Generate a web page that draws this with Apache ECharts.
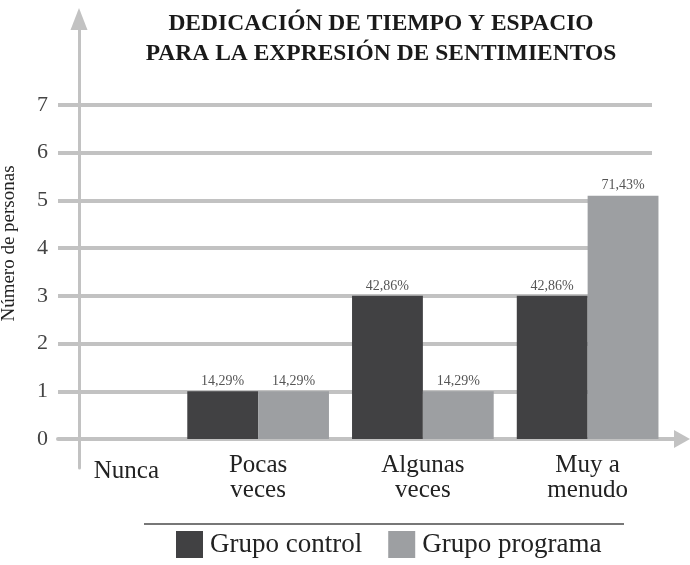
<!DOCTYPE html>
<html>
<head>
<meta charset="utf-8">
<script src="https://cdn.jsdelivr.net/npm/echarts@6/dist/echarts.min.js"></script>
<style>
  html, body { margin: 0; padding: 0; background: #fff; }
  #main { width: 690px; height: 565px; }
</style>
</head>
<body>
<div id="main"></div>
<script>
// datos
let categorias = ['Nunca', 'Pocas\nveces', 'Algunas\nveces', 'Muy a\nmenudo']
let grupoControl = [0, 1, 3, 3]
let grupoPrograma = [0, 1, 1, 5.1]
let pctControl = ['', '14,29%', '42,86%', '42,86%']
let pctPrograma = ['', '14,29%', '14,29%', '71,43%']
let yTicks = [0, 1, 2, 3, 4, 5, 6, 7]

const serif = 'Liberation Serif'
const gris = '#c2c2c2'

let chart = echarts.init(document.getElementById('main'), null, { renderer: 'canvas' })

let barLabel = (pcts) => ({
  show: true,
  position: 'top',
  distance: 3,
  fontFamily: serif,
  fontSize: 14,
  color: '#555',
  formatter: p => pcts[p.dataIndex]
})

let option = {
  backgroundColor: '#fff',
  animation: false,
  title: {
    text: 'DEDICACIÓN DE TIEMPO Y ESPACIO\nPARA LA EXPRESIÓN DE SENTIMIENTOS',
    left: 381,
    top: 9,
    padding: 0,
    textAlign: 'center',
    textStyle: {
      fontFamily: serif,
      fontWeight: 'bold',
      fontSize: 23.5,
      lineHeight: 30,
      color: '#1a1a1a'
    }
  },
  legend: {
    data: ['Grupo control', 'Grupo programa'],
    left: 176,
    top: 531,
    padding: 0,
    icon: 'rect',
    itemWidth: 27,
    itemHeight: 27,
    itemGap: 26,
    selectedMode: false,
    textStyle: { fontFamily: serif, fontSize: 27, color: '#222', padding: [0, 0, 0, 2] }
  },
  graphic: [
    { type: 'line', shape: { x1: 144, y1: 524, x2: 624, y2: 524 }, style: { stroke: '#777', lineWidth: 2 } }
  ],
  grid: [
    // barras
    { left: 11, right: 20, top: 105, bottom: 126 },
    // lineas de division y etiquetas
    { left: 58, right: 38, top: 105, bottom: 126 },
    // eje vertical con flecha
    { left: 78, width: 1, top: 19, bottom: 97 },
    // eje horizontal con flecha
    { left: 58, right: 8, top: 105, bottom: 126 }
  ],
  xAxis: [
    {
      gridIndex: 0,
      type: 'category',
      data: categorias,
      axisLine: { show: false },
      axisTick: { show: false },
      axisLabel: {
        margin: 14,
        fontFamily: serif,
        fontSize: 25,
        lineHeight: 25,
        color: '#222',
        formatter: v => v === 'Nunca' ? '{n|' + v + '}' : v,
        rich: {
          n: { fontFamily: serif, fontSize: 25, lineHeight: 25, color: '#222', padding: [12, 0, 0, 66] }
        }
      }
    },
    { gridIndex: 1, type: 'value', show: false },
    { gridIndex: 2, type: 'value', show: false, min: 0, max: 1 },
    {
      gridIndex: 3,
      type: 'value',
      min: 0,
      max: 1,
      axisLine: {
        show: true,
        symbol: ['none', 'triangle'],
        symbolSize: [18, 16],
        lineStyle: { color: gris, width: 4 }
      },
      axisTick: { show: false },
      axisLabel: { show: false },
      splitLine: { show: false }
    }
  ],
  yAxis: [
    { gridIndex: 0, type: 'value', min: 0, max: 7, show: false },
    {
      gridIndex: 1,
      type: 'value',
      min: yTicks[0],
      max: yTicks[yTicks.length - 1],
      interval: 1,
      axisLine: { show: false },
      axisTick: { show: false },
      axisLabel: { margin: 10, fontFamily: serif, fontSize: 22, color: '#444' },
      splitLine: { show: true, lineStyle: { color: gris, width: 4 } }
    },
    {
      gridIndex: 2,
      type: 'value',
      min: 0,
      max: 1,
      name: 'Número de personas',
      nameLocation: 'middle',
      nameRotate: 90,
      nameGap: 60,
      nameTextStyle: { fontFamily: serif, fontSize: 19, color: '#222' },
      axisLine: {
        show: true,
        symbol: ['none', 'triangle'],
        symbolSize: [17, 22],
        lineStyle: { color: gris, width: 3 }
      },
      axisTick: { show: false },
      axisLabel: { show: false },
      splitLine: { show: false }
    },
    { gridIndex: 3, type: 'value', min: 0, max: 1, show: false }
  ],
  series: [
    {
      name: 'Grupo control',
      type: 'bar',
      xAxisIndex: 0,
      yAxisIndex: 0,
      data: grupoControl,
      barGap: '0%',
      barCategoryGap: '14%',
      itemStyle: { color: '#414143' },
      label: barLabel(pctControl),
      z: 3
    },
    {
      name: 'Grupo programa',
      type: 'bar',
      xAxisIndex: 0,
      yAxisIndex: 0,
      data: grupoPrograma,
      barGap: '0%',
      barCategoryGap: '14%',
      itemStyle: { color: '#9d9fa2' },
      label: barLabel(pctPrograma),
      z: 3
    }
  ]
}

chart.setOption(option)
</script>
</body>
</html>
